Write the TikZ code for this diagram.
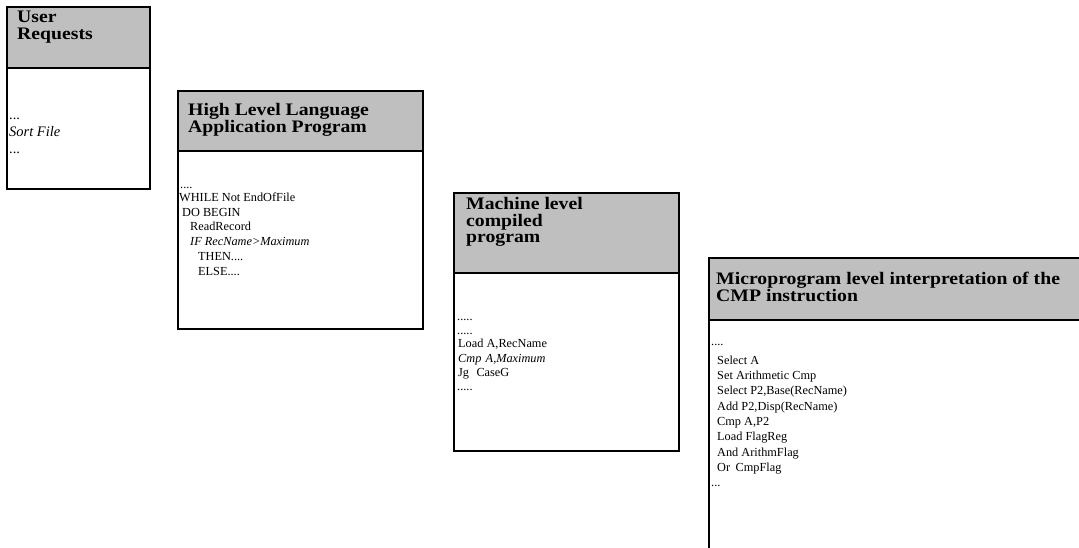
\documentclass[tikz,border=0pt]{standalone}
\usepackage{fontspec}
\setmainfont{Liberation Serif}
\newfontfamily\hdrfont[FakeStretch=1.12]{Liberation Serif}
\begin{document}
\begin{tikzpicture}[x=1pt,y=-1pt,
  hdr/.style={anchor=base west, inner sep=0pt, font=\hdrfont\fontsize{17.6}{16}\selectfont\bfseries},
  txt/.style={anchor=base west, inner sep=0pt, font=\fontsize{12.3}{14}\selectfont},
  itx/.style={anchor=base west, inner sep=0pt, font=\fontsize{12.3}{14}\selectfont\itshape},
  bigtxt/.style={anchor=base west, inner sep=0pt, font=\fontsize{14.5}{16}\selectfont},
  bigitx/.style={anchor=base west, inner sep=0pt, font=\fontsize{14.5}{16}\selectfont\itshape},
  hbox/.style={draw=black, line width=1.3pt, fill=black!25, anchor=north west, inner sep=0pt, outer sep=0pt},
  bbox/.style={draw=black, line width=1.3pt, anchor=north west, inner sep=0pt, outer sep=0pt}]
\useasboundingbox (0,0) rectangle (1079,548);
\clip (0,0) rectangle (1079,548);
% Box 1
\node[hbox, minimum width=143, minimum height=61] (h1) at (7,7) {};
\node[bbox, minimum width=143, minimum height=121] (b1) at (7,68) {};
\node[hdr] (h1a) at (17,23) {User};
\node[hdr] (h1b) at (17,39.5) {Requests};
\node[bigtxt] (t1a) at (9,120) {...};
\node[bigitx] (t1b) at (9,137) {Sort File};
\node[bigtxt] (t1c) at (9,154) {...};
% Box 2
\node[hbox, minimum width=245, minimum height=60] (h2) at (178,91) {};
\node[bbox, minimum width=245, minimum height=178] (b2) at (178,151) {};
\node[hdr] (h2a) at (188,116) {High Level Language};
\node[hdr] (h2b) at (188,132.5) {Application Program};
\node[txt] (t2a) at (180,189) {....};
\node[txt] (t2b) at (179,202) {WHILE Not EndOfFile};
\node[txt] (t2c) at (182,217) {DO BEGIN};
\node[txt] (t2d) at (190,231) {ReadRecord};
\node[itx] (t2e) at (190,246) {IF RecName>Maximum};
\node[txt] (t2f) at (198,261) {THEN....};
\node[txt] (t2g) at (198,275) {ELSE....};
% Box 3
\node[hbox, minimum width=225, minimum height=80] (h3) at (454,193) {};
\node[bbox, minimum width=225, minimum height=178] (b3) at (454,273) {};
\node[hdr] (h3a) at (466,210) {Machine level};
\node[hdr] (h3b) at (466,226.5) {compiled};
\node[hdr] (h3c) at (466,243) {program};
\node[txt] (t3a) at (457,320) {.....};
\node[txt] (t3b) at (457,334) {.....};
\node[txt] (t3c) at (458,347) {Load A,RecName};
\node[itx] (t3d) at (458,362) {Cmp\hspace{0.35em}A,Maximum};
\node[txt] (t3e) at (458,376) {Jg\hspace{0.6em}CaseG};
\node[txt] (t3f) at (457,390) {.....};
% Box 4
\node[hbox, minimum width=400, minimum height=62] (h4) at (709,258) {};
\node[bbox, minimum width=400, minimum height=260] (b4) at (709,320) {};
\node[hdr] (h4a) at (716,284) {Microprogram level interpretation of the};
\node[hdr] (h4b) at (716,301) {CMP instruction};
\node[txt] (t4a) at (711,345) {....};
\node[txt] (t4b) at (717,364) {Select A};
\node[txt] (t4c) at (717,379) {Set Arithmetic Cmp};
\node[txt] (t4d) at (717,394) {Select P2,Base(RecName)};
\node[txt] (t4e) at (717,410) {Add P2,Disp(RecName)};
\node[txt] (t4f) at (717,425) {Cmp A,P2};
\node[txt] (t4g) at (717,440) {Load FlagReg};
\node[txt] (t4h) at (717,456) {And ArithmFlag};
\node[txt] (t4i) at (717,471) {Or\hspace{0.45em}CmpFlag};
\node[txt] (t4j) at (711,486) {...};
\end{tikzpicture}
\end{document}
